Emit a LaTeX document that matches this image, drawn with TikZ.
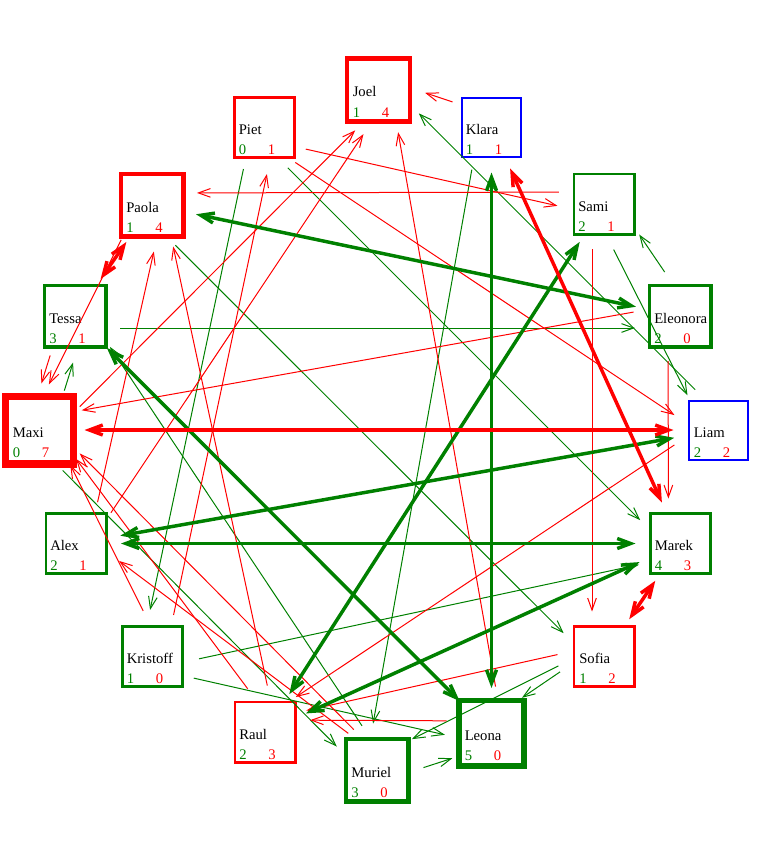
\documentclass[tikz,border=0pt]{standalone}
\usepackage{fontspec}
\setmainfont{Liberation Serif}
\usetikzlibrary{arrows.meta, calc}
\definecolor{grn}{RGB}{0,128,0}
\definecolor{blu}{RGB}{0,0,255}
\definecolor{rd}{RGB}{255,0,0}
\newcommand{\tally}[2]{\makebox[21.75pt][l]{\textcolor{grn}{#1}}\textcolor{rd}{#2}}

\begin{document}
\begin{tikzpicture}[
    x=0.75pt, y=-0.75pt,
    person/.style 2 args={draw=#1, line width={(2+0.75*#2)*0.75pt}, minimum size={(59+1.25*#2)*0.75pt}, inner sep=0pt},
    nm/.style={anchor=base west, inner sep=0pt, font=\fontsize{11}{13}\selectfont},
    tie/.style={line width=0.75pt, shorten <=33.75pt, shorten >=33.75pt, -{Straight Barb[length=9pt, width=6.5pt]}},
    bond/.style={line width=2.6pt, shorten <=33.75pt, shorten >=33.75pt, {Straight Barb[length=10pt, width=7.5pt]}-{Straight Barb[length=10pt, width=7.5pt]}}
  ]
  \useasboundingbox (0,0) rectangle (758,856);

  % People
  \node[person={rd}{3}] (joel) at (378.5,90) {};
  \node[nm] at ([shift={(-26,7)}]joel.center) {Joel};
  \node[nm] at ([shift={(-26,27)}]joel.center) {\tally{1}{4}};

  \node[person={rd}{1}] (piet) at (264.5,127.5) {};
  \node[nm] at ([shift={(-26,7)}]piet.center) {Piet};
  \node[nm] at ([shift={(-26,27)}]piet.center) {\tally{0}{1}};

  \node[person={blu}{0}] (klara) at (491.5,127.5) {};
  \node[nm] at ([shift={(-26,7)}]klara.center) {Klara};
  \node[nm] at ([shift={(-26,27)}]klara.center) {\tally{1}{1}};

  \node[person={grn}{1}] (sami) at (604,204) {};
  \node[nm] at ([shift={(-26,7)}]sami.center) {Sami};
  \node[nm] at ([shift={(-26,27)}]sami.center) {\tally{2}{1}};

  \node[person={rd}{3}] (paola) at (152,205) {};
  \node[nm] at ([shift={(-26,7)}]paola.center) {Paola};
  \node[nm] at ([shift={(-26,27)}]paola.center) {\tally{1}{4}};

  \node[person={grn}{2}] (eleonora) at (680,316) {};
  \node[nm] at ([shift={(-26,7)}]eleonora.center) {Eleonora};
  \node[nm] at ([shift={(-26,27)}]eleonora.center) {\tally{2}{0}};

  \node[person={grn}{2}] (tessa) at (75,316) {};
  \node[nm] at ([shift={(-26,7)}]tessa.center) {Tessa};
  \node[nm] at ([shift={(-26,27)}]tessa.center) {\tally{3}{1}};

  \node[person={rd}{7}] (maxi) at (39.5,430) {};
  \node[nm] at ([shift={(-27,7)}]maxi.center) {Maxi};
  \node[nm] at ([shift={(-27,27)}]maxi.center) {\tally{0}{7}};

  \node[person={blu}{0}] (liam) at (718.5,430) {};
  \node[nm] at ([shift={(-25,7)}]liam.center) {Liam};
  \node[nm] at ([shift={(-25,27)}]liam.center) {\tally{2}{2}};

  \node[person={grn}{1}] (alex) at (76,543.5) {};
  \node[nm] at ([shift={(-26,7)}]alex.center) {Alex};
  \node[nm] at ([shift={(-26,27)}]alex.center) {\tally{2}{1}};

  \node[person={grn}{1}] (marek) at (680.5,543.5) {};
  \node[nm] at ([shift={(-26,7)}]marek.center) {Marek};
  \node[nm] at ([shift={(-26,27)}]marek.center) {\tally{4}{3}};

  \node[person={grn}{1}] (kristoff) at (152.5,656.5) {};
  \node[nm] at ([shift={(-26,7)}]kristoff.center) {Kristoff};
  \node[nm] at ([shift={(-26,27)}]kristoff.center) {\tally{1}{0}};

  \node[person={rd}{1}] (sofia) at (604,656.5) {};
  \node[nm] at ([shift={(-25,7)}]sofia.center) {Sofia};
  \node[nm] at ([shift={(-25,27)}]sofia.center) {\tally{1}{2}};

  \node[person={rd}{1}] (raul) at (265,732) {};
  \node[nm] at ([shift={(-26,7)}]raul.center) {Raul};
  \node[nm] at ([shift={(-26,27)}]raul.center) {\tally{2}{3}};

  \node[person={grn}{3}] (muriel) at (377,770) {};
  \node[nm] at ([shift={(-26,7)}]muriel.center) {Muriel};
  \node[nm] at ([shift={(-26,27)}]muriel.center) {\tally{3}{0}};

  \node[person={grn}{5}] (leona) at (491.5,733) {};
  \node[nm] at ([shift={(-27,7)}]leona.center) {Leona};
  \node[nm] at ([shift={(-27,27)}]leona.center) {\tally{5}{0}};

  % One-way ties, drawn beside the centre line
  \foreach \a/\b in {liam/joel, sami/liam, eleonora/sami, maxi/tessa, sofia/leona, sofia/muriel,
      muriel/leona, klara/muriel, piet/kristoff, piet/marek, kristoff/marek, tessa/eleonora,
      paola/sofia, kristoff/leona, maxi/muriel, muriel/tessa}
    \draw[tie, grn] ($(\a.center)!9pt!-90:(\b.center)$) -- ($(\b.center)!9pt!90:(\a.center)$);

  \foreach \a/\b in {klara/joel, maxi/joel, alex/joel, leona/joel, piet/sami, sami/paola,
      alex/paola, raul/paola, paola/maxi, eleonora/maxi, leona/raul, liam/raul, kristoff/piet,
      sami/sofia, eleonora/marek, piet/liam, sofia/raul, kristoff/maxi, muriel/maxi, tessa/maxi,
      raul/maxi, muriel/alex}
    \draw[tie, rd] ($(\a.center)!9pt!-90:(\b.center)$) -- ($(\b.center)!9pt!90:(\a.center)$);

  % Mutual ties
  \draw[bond, grn] (paola.center) -- (eleonora.center);
  \draw[bond, grn] (klara.center) -- (leona.center);
  \draw[bond, grn] (tessa.center) -- (leona.center);
  \draw[bond, grn] (sami.center) -- (raul.center);
  \draw[bond, grn] (liam.center) -- (alex.center);
  \draw[bond, grn] (alex.center) -- (marek.center);
  \draw[bond, grn] (marek.center) -- (raul.center);
  \draw[bond, rd] (maxi.center) -- (liam.center);
  \draw[bond, rd] (klara.center) -- (marek.center);
  \draw[bond, rd] (paola.center) -- (tessa.center);
  \draw[bond, rd] (marek.center) -- (sofia.center);

\end{tikzpicture}
\end{document}
